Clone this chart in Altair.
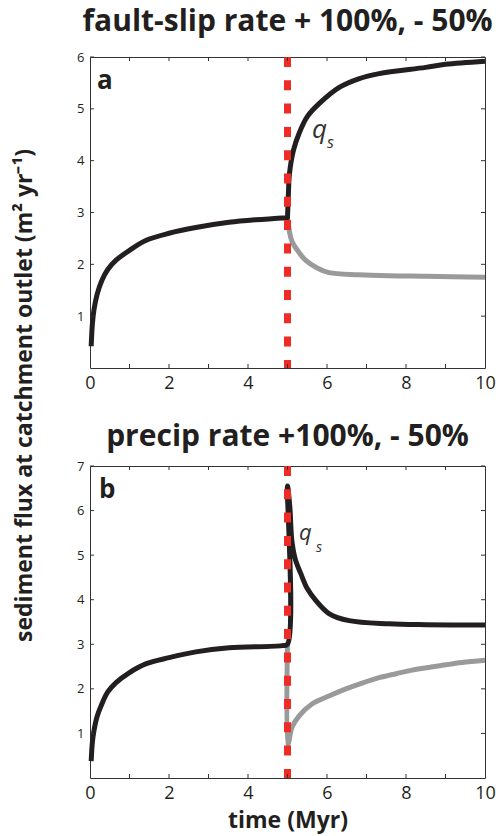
import altair as alt
import pandas as pd

# ---------------- data ----------------
# panel a : fault-slip rate +100% / -50%
a_black_t = [0.03, 0.06, 0.1, 0.18, 0.3, 0.45, 0.66, 1.0, 1.41, 2.0, 2.68, 3.52, 4.2, 5.0,
             5.0, 5.02, 5.05, 5.15, 5.29, 5.5, 5.8, 6.3, 6.8, 7.32, 8.5, 9.0, 10.0]
a_black_v = [0.42, 0.85, 1.12, 1.42, 1.69, 1.9, 2.08, 2.27, 2.46, 2.6, 2.71, 2.81, 2.86, 2.9,
             2.9, 3.3, 3.75, 4.2, 4.52, 4.85, 5.1, 5.41, 5.58, 5.68, 5.8, 5.86, 5.92]
a_gray_t = [5.0, 5.11, 5.3, 5.47, 5.75, 6.05, 6.8, 7.57, 8.5, 10.0]
a_gray_v = [2.9, 2.45, 2.22, 2.07, 1.93, 1.84, 1.8, 1.78, 1.77, 1.75]

# panel b : precip rate +100% / -50%
b_black_t = [0.03, 0.06, 0.1, 0.18, 0.3, 0.45, 0.66, 0.99, 1.41, 2.0, 2.68, 3.52, 4.86, 5.0,
             5.0, 5.06, 5.11, 5.2, 5.34, 5.5, 5.72, 6.05, 6.56, 7.57, 8.5, 10.0]
b_black_v = [0.38, 0.8, 1.06, 1.38, 1.66, 1.93, 2.14, 2.36, 2.56, 2.7, 2.83, 2.92, 2.97, 3.0,
             6.55, 6.07, 5.33, 4.9, 4.58, 4.25, 3.98, 3.69, 3.53, 3.46, 3.44, 3.43]
b_gray_t = [5.0, 5.0, 5.04, 5.11, 5.29, 5.62, 6.05, 6.48, 6.89, 7.32, 7.75, 8.15, 8.58,
            9.01, 9.42, 10.0]
b_gray_v = [3.0, 0.72, 0.84, 1.13, 1.39, 1.66, 1.84, 2.0, 2.13, 2.25, 2.34, 2.42, 2.48,
            2.54, 2.59, 2.64]

change_time = [5.0]
x_minor_ticks = [1, 2, 3, 4, 5, 6, 7, 8, 9]
x_labels = [0, 2, 4, 6, 8, 10]
a_y_ticks = [1, 2, 3, 4, 5, 6]
b_y_ticks = [1, 2, 3, 4, 5, 6, 7]

title_a = "fault-slip rate + 100%, - 50%"
title_b = "precip rate +100%, - 50%"
y_title = "sediment flux at catchment outlet (m² yr⁻¹)"
x_title = "time (Myr)"

# ---------------- styling ----------------
FONT = "Open Sans"
INK = "#231f20"
BLACK = "#231f20"
GRAY = "#9a9a9a"
RED = "#ee2b24"
W = 395


def series_df(t, v):
    return pd.DataFrame({"t": t, "v": v, "i": list(range(len(t)))})


def panel(black_t, black_v, gray_t, gray_v, ymax, yticks, H, title, title_offset,
          letter, letter_x, q_xy, s_xy, q_size, s_size, ytitle, xtitle):
    xs = alt.Scale(domain=[0, 10], nice=False, zero=False)
    ys = alt.Scale(domain=[0, ymax], nice=False, zero=False)

    xaxis_kw = dict(values=x_labels, ticks=False, domain=False, grid=False,
                    labelFontSize=18, labelFont=FONT, labelColor=INK,
                    labelPadding=6, labelFlush=False)
    if xtitle:
        xaxis = alt.Axis(title=xtitle, titleFontSize=23, titleFont=FONT,
                         titleFontWeight="bold", titleColor=INK, titlePadding=7,
                         **xaxis_kw)
    else:
        xaxis = alt.Axis(title=None, **xaxis_kw)

    yaxis_kw = dict(values=yticks, ticks=False, domain=False, grid=False,
                    labelFontSize=13, labelFont=FONT, labelColor=INK,
                    labelPadding=6, labelFlush=False)
    if ytitle:
        yaxis = alt.Axis(title=ytitle, titleFontSize=23, titleFont=FONT,
                         titleFontWeight="bold", titleColor=INK, titleAngle=270,
                         titleX=-66, titleY=338, titleAlign="center",
                         titleBaseline="middle", **yaxis_kw)
    else:
        yaxis = alt.Axis(title=None, **yaxis_kw)

    X = alt.X("t:Q", scale=xs, axis=xaxis)
    Y = alt.Y("v:Q", scale=ys, axis=yaxis)

    gray = alt.Chart(series_df(gray_t, gray_v)).mark_line(
        color=GRAY, strokeWidth=5, strokeJoin="round", interpolate="catmull-rom"
    ).encode(x=X, y=Y, order=alt.Order("i:Q"))
    black = alt.Chart(series_df(black_t, black_v)).mark_line(
        color=BLACK, strokeWidth=5, strokeJoin="round", interpolate="catmull-rom"
    ).encode(x=X, y=Y, order=alt.Order("i:Q"))
    red = alt.Chart(pd.DataFrame({"t": change_time})).mark_rule(
        color=RED, strokeWidth=7, strokeDash=[10, 13.3]
    ).encode(x=X, y=alt.value(0), y2=alt.value(H))
    xt = pd.DataFrame({"t": x_minor_ticks})
    yt = pd.DataFrame({"v": yticks})
    tick_style = dict(color="#333333", strokeWidth=1)
    bot = alt.Chart(xt).mark_rule(**tick_style).encode(
        x=X, y=alt.value(H), y2=alt.value(H - 4))
    top = alt.Chart(xt).mark_rule(**tick_style).encode(
        x=X, y=alt.value(0), y2=alt.value(4))
    left = alt.Chart(yt).mark_rule(**tick_style).encode(
        y=Y, x=alt.value(0), x2=alt.value(4))
    right = alt.Chart(yt).mark_rule(**tick_style).encode(
        y=Y, x=alt.value(W - 4), x2=alt.value(W))

    lab = alt.Chart(pd.DataFrame({"s": [letter]})).mark_text(
        font=FONT, fontSize=26, fontWeight="bold", color=INK,
        align="left", baseline="alphabetic"
    ).encode(text="s:N", x=alt.value(letter_x), y=alt.value(32))

    q = alt.Chart(pd.DataFrame({"t": [q_xy[0]], "v": [q_xy[1]], "s": ["q"]})).mark_text(
        font=FONT, fontSize=q_size, fontStyle="italic", color="#333333",
        align="left", baseline="alphabetic"
    ).encode(x=X, y=Y, text="s:N")
    s = alt.Chart(pd.DataFrame({"t": [s_xy[0]], "v": [s_xy[1]], "s": ["s"]})).mark_text(
        font=FONT, fontSize=s_size, fontStyle="italic", color="#333333",
        align="left", baseline="alphabetic"
    ).encode(x=X, y=Y, text="s:N")

    return alt.layer(gray, black, red, bot, top, left, right, lab, q, s).properties(
        width=W, height=H,
        title=alt.TitleParams(title, font=FONT, fontSize=30, fontWeight="bold",
                              color=INK, anchor="middle", offset=title_offset),
    )


pa = panel(a_black_t, a_black_v, a_gray_t, a_gray_v, 6, a_y_ticks, 311, title_a, 14,
           "a", 7, (5.62, 4.44), (6.0, 4.25), 26, 16, y_title, None)
pb = panel(b_black_t, b_black_v, b_gray_t, b_gray_v, 7, b_y_ticks, 312, title_b, 8,
           "b", 9, (5.29, 5.33), (5.72, 5.06), 22, 14, None, x_title)

chart = alt.vconcat(pa, pb, spacing=98, bounds="flush").properties(
    padding={"left": 12, "top": 6, "right": 2, "bottom": 2}
).configure_view(stroke="#333333", strokeWidth=1)

chart.save("out.html", embed_options={"renderer": "svg", "actions": False})
